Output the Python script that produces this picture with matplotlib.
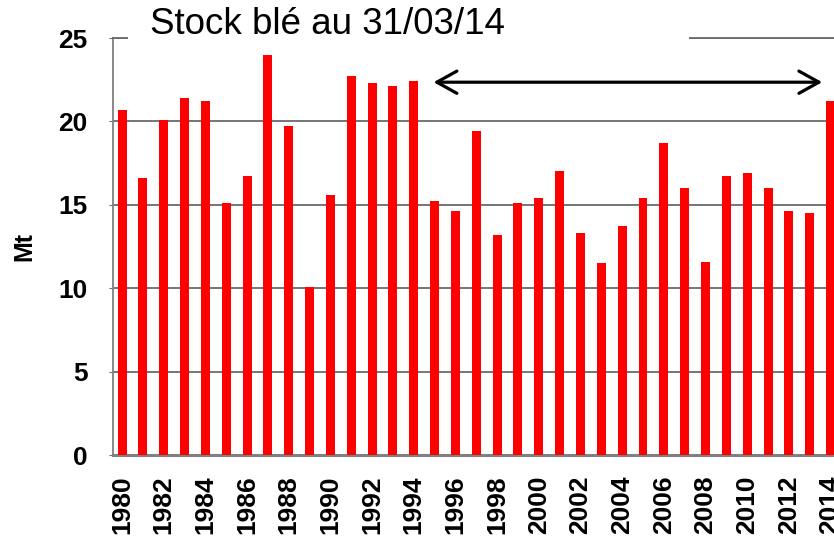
import numpy as np
import matplotlib
matplotlib.use("Agg")
import matplotlib.pyplot as plt
from matplotlib.patches import Rectangle

plt.rcParams['font.family'] = ['Liberation Sans', 'DejaVu Sans']

# Stocks de blé (Mt) par année
years = list(range(1980, 2015))
stocks = [20.7, 16.6, 20.1, 21.4, 21.2, 15.1, 16.7, 24.0, 19.7, 10.1,
          15.6, 22.7, 22.3, 22.1, 22.4, 15.2, 14.6, 19.4, 13.2, 15.1,
          15.4, 17.0, 13.3, 11.5, 13.7, 15.4, 18.7, 16.0, 11.6, 16.7,
          16.9, 16.0, 14.6, 14.5, 21.2]
tick_years = [str(y) for y in years[::2]]
yticks = [0, 5, 10, 15, 20, 25]

fig = plt.figure(figsize=(8.34, 5.36), dpi=100)
ax = fig.add_axes([0.1351, 0.1511, 0.8745, 0.778])

x = np.arange(len(years))
ax.bar(x, stocks, width=0.43, color="#ff0000", zorder=3)

ax.set_xlim(-0.45, len(years) - 0.45)
ax.set_ylim(0, 25)
ax.set_yticks(yticks)
ax.set_yticklabels([str(v) for v in yticks], fontsize=19, fontweight='bold')
ax.set_xticks(x[::2])
ax.set_xticklabels(tick_years, rotation=90, fontsize=19, fontweight='bold', va='top')
ax.tick_params(axis='x', length=0, pad=14.5)
ax.tick_params(axis='y', length=3, direction='out', color='#707070', pad=15)
ax.set_ylabel("Mt", fontsize=18, fontweight='bold', labelpad=16)

ax.yaxis.grid(True, color='#6a6a6a', linewidth=1.3, zorder=1)
ax.spines['right'].set_visible(False)
ax.spines['top'].set_color('#6a6a6a')
ax.spines['top'].set_linewidth(1.3)
ax.spines['left'].set_color('#808080')
ax.spines['left'].set_linewidth(1.3)
ax.spines['bottom'].set_color('#808080')
ax.spines['bottom'].set_linewidth(2.2)

# double flèche 1995 -> 2014
ax.annotate("", xy=(14.95, 22.35), xytext=(33.6, 22.35),
            arrowprops=dict(arrowstyle="<->,head_length=0.72,head_width=0.4",
                            color="black", lw=2.3, mutation_scale=20,
                            shrinkA=0, shrinkB=0),
            annotation_clip=False, zorder=5)

# cadre blanc du titre
fig.patches.append(Rectangle((128 / 834, 1 - 46 / 536), (689 - 128) / 834, 46 / 536,
                             transform=fig.transFigure, facecolor='white',
                             edgecolor='none', zorder=10))
fig.text(150 / 834, 1 - 25 / 536, "Stock blé au 31/03/14", fontsize=26.5,
         ha='left', va='center', zorder=11)

fig.savefig("out.png", dpi=100)
